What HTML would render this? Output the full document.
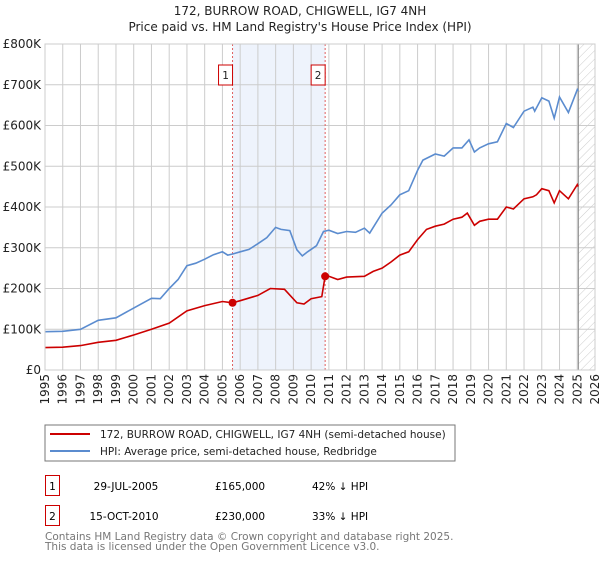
<!DOCTYPE html>
<html><head><meta charset="utf-8"><style>
body{margin:0;background:#fff;width:600px;height:560px;overflow:hidden;font-family:"DejaVu Sans","Liberation Sans",sans-serif}
svg text{font-family:"DejaVu Sans","Liberation Sans",sans-serif}
</style></head><body>
<svg id="c" width="600" height="560" xmlns="http://www.w3.org/2000/svg">
<defs><pattern id="hatch" width="6" height="6" patternUnits="userSpaceOnUse" patternTransform="rotate(45)"><line x1="0" y1="0" x2="0" y2="6" stroke="#ccc" stroke-width="1"/></pattern></defs>
<text x="300" y="15" text-anchor="middle" font-size="12" fill="#222">172, BURROW ROAD, CHIGWELL, IG7 4NH</text>
<text x="300" y="31" text-anchor="middle" font-size="12" fill="#222">Price paid vs. HM Land Registry's House Price Index (HPI)</text>
<g id="grid"></g><g id="plot"></g><g id="axes"></g>
<rect x="45" y="425" width="410" height="36" fill="#fff" stroke="#777"/>
<line x1="50" y1="434" x2="90" y2="434" stroke="#cc0000" stroke-width="2"/>
<text x="100" y="438" font-size="10.5" fill="#222">172, BURROW ROAD, CHIGWELL, IG7 4NH (semi-detached house)</text>
<line x1="50" y1="451" x2="90" y2="451" stroke="#5b8ccf" stroke-width="2"/>
<text x="100" y="455" font-size="10.5" fill="#222">HPI: Average price, semi-detached house, Redbridge</text>
<g>
<rect x="45.5" y="475.5" width="14" height="20" fill="#fff" stroke="#c00"/><text x="52.5" y="490" text-anchor="middle" font-size="10.5">1</text>
<text x="126" y="490" text-anchor="middle" font-size="10.5">29-JUL-2005</text>
<text x="215" y="490" font-size="10.5">£165,000</text><text x="312" y="490" font-size="10.5">42% ↓ HPI</text></g>
<g>
<rect x="45.5" y="505.5" width="14" height="20" fill="#fff" stroke="#c00"/><text x="52.5" y="520" text-anchor="middle" font-size="10.5">2</text>
<text x="124" y="520" text-anchor="middle" font-size="10.5">15-OCT-2010</text>
<text x="215" y="520" font-size="10.5">£230,000</text><text x="312" y="520" font-size="10.5">33% ↓ HPI</text></g>
<text x="45" y="540" font-size="10.5" fill="#777">Contains HM Land Registry data © Crown copyright and database right 2025.</text>
<text x="45" y="550" font-size="10.5" fill="#777">This data is licensed under the Open Government Licence v3.0.</text>
</svg>
<script>
const yTicks=[0,100000,200000,300000,400000,500000,600000,700000,800000];
const yTickLabels=["£0","£100K","£200K","£300K","£400K","£500K","£600K","£700K","£800K"];
const years=[1995,1996,1997,1998,1999,2000,2001,2002,2003,2004,2005,2006,2007,2008,2009,2010,2011,2012,2013,2014,2015,2016,2017,2018,2019,2020,2021,2022,2023,2024,2025,2026];
const hpiT=[1995,1996,1997,1998,1999,2000,2001,2001.5,2002,2002.5,2003,2003.5,2004,2004.5,2005,2005.3,2005.6,2006,2006.5,2007,2007.5,2008,2008.3,2008.8,2009.2,2009.5,2009.8,2010.3,2010.7,2011,2011.5,2012,2012.5,2013,2013.3,2014,2014.5,2015,2015.5,2016,2016.3,2017,2017.5,2018,2018.5,2018.9,2019.2,2019.5,2020,2020.5,2021,2021.4,2022,2022.5,2022.6,2023,2023.4,2023.7,2024,2024.5,2025,2025.05];
const hpiV=[94000,95000,100000,122000,128000,152000,176000,175000,200000,222000,256000,262000,272000,283000,290000,282000,285000,290000,296000,310000,325000,350000,345000,342000,295000,280000,290000,305000,340000,343000,335000,340000,338000,348000,336000,385000,405000,430000,440000,490000,515000,530000,525000,545000,545000,565000,535000,545000,555000,560000,605000,595000,635000,645000,635000,668000,660000,618000,670000,632000,688000,685000];
const priceT=[1995,1996,1997,1998,1999,2000,2001,2002,2003,2004,2005,2005.57,2006,2007,2007.7,2008.5,2009.2,2009.6,2010,2010.6,2010.79,2011,2011.5,2012,2013,2013.5,2014,2014.5,2015,2015.5,2016,2016.5,2017,2017.5,2018,2018.5,2018.8,2019.2,2019.5,2020,2020.5,2021,2021.4,2022,2022.5,2022.7,2023,2023.4,2023.7,2024,2024.5,2025,2025.05];
const priceV=[55000,56000,60000,68000,73000,86000,100000,115000,145000,158000,168000,165000,170000,183000,200000,198000,165000,162000,175000,180000,230000,230000,222000,228000,230000,242000,250000,265000,282000,290000,320000,345000,353000,358000,370000,375000,385000,355000,365000,370000,370000,400000,395000,420000,425000,430000,445000,440000,410000,440000,420000,455000,450000];
const saleT=[2005.57,2010.79];
const saleV=[165000,230000];
const saleLabels=["1","2"];
const NS="http://www.w3.org/2000/svg";
const X0=45,X1=595,Y0=370,Y1=44;
const sx=t=>X0+(t-1995)/(2026-1995)*(X1-X0);
const sy=v=>Y0-v/800000*(Y0-Y1);
function mk(p,tag,a){const e=document.createElementNS(NS,tag);for(const k in a)e.setAttribute(k,a[k]);p.appendChild(e);return e;}
const grid=document.getElementById('grid'),plot=document.getElementById('plot'),axes=document.getElementById('axes');
let sh=mk(grid,'rect',{x:sx(saleT[0]),y:Y1,width:sx(saleT[1])-sx(saleT[0]),height:Y0-Y1,fill:'#eef3fc'});


let hz=mk(grid,'rect',{x:sx(2025.06),y:Y1,width:X1-sx(2025.06),height:Y0-Y1,fill:'url(#hatch)'});


years.forEach(y=>{mk(grid,'line',{x1:sx(y),x2:sx(y),y1:Y1,y2:Y0,stroke:'#ccc'});
 const t=mk(axes,'text',{x:0,y:0,'font-size':'12',fill:'#222','text-anchor':'end',transform:`translate(${sx(y)+4},${Y0+4}) rotate(-90)`});t.textContent=y;
 
 });
yTicks.forEach((v,i)=>{mk(grid,'line',{x1:X0,x2:X1,y1:sy(v),y2:sy(v),stroke:'#ccc'});
 const t=mk(axes,'text',{x:X0-4,y:sy(v)+4,'font-size':'12',fill:'#222','text-anchor':'end'});t.textContent=yTickLabels[i];
 
 });
mk(grid,'line',{x1:sx(2025.06),x2:sx(2025.06),y1:Y1,y2:Y0,stroke:'#888'});
saleT.forEach((t,i)=>{const l=mk(plot,'line',{x1:sx(t),x2:sx(t),y1:Y1,y2:Y0,stroke:'#e06060','stroke-dasharray':'2,2'});
 
 });
const path=(T,V)=>T.map((t,i)=>(i?'L':'M')+sx(t).toFixed(1)+','+sy(V[i]).toFixed(1)).join('');
let h=mk(plot,'path',{d:path(hpiT,hpiV),fill:'none',stroke:'#5b8ccf','stroke-width':1.6});


let p=mk(plot,'path',{d:path(priceT,priceV),fill:'none',stroke:'#cc0000','stroke-width':1.6});


saleT.forEach((t,i)=>{const c=mk(plot,'circle',{cx:sx(t),cy:sy(saleV[i]),r:4,fill:'#cc0000'});
 
 
 const g=mk(plot,'g',{});
 
 
 mk(g,'rect',{x:sx(t)-14,y:65,width:14,height:20,fill:'#fff',stroke:'#c00'});
 const tx=mk(g,'text',{x:sx(t)-7,y:79,'text-anchor':'middle','font-size':'10.5',fill:'#222'});tx.textContent=saleLabels[i];});
mk(axes,'rect',{x:X0,y:Y1,width:X1-X0,height:Y0-Y1,fill:'none',stroke:'#ccc'});
</script>
</body></html>
